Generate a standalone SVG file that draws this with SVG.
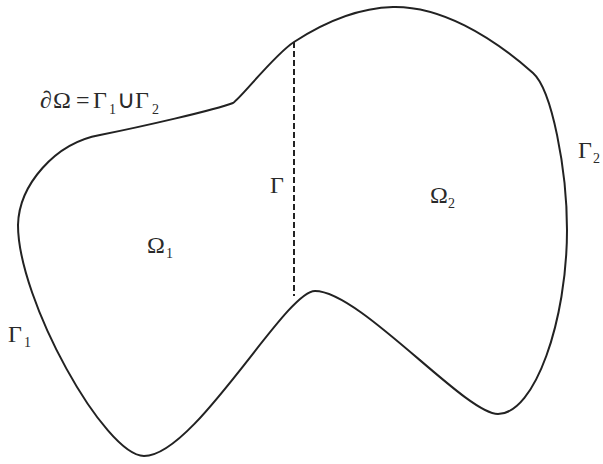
<svg xmlns="http://www.w3.org/2000/svg" width="603" height="464" viewBox="0 0 603 464">
<style>
.bd{fill:none;stroke:#222;stroke-width:2;stroke-linejoin:round}
.ifc{fill:none;stroke:#222;stroke-width:2;stroke-dasharray:6 3}
.lb{font-family:"Liberation Serif","DejaVu Serif",serif;font-size:24px;fill:#2a2a2a}
.sb{font-size:14px}
.cup{font-family:"DejaVu Sans",sans-serif;font-weight:200;font-size:25px}
</style>
<rect width="603" height="464" fill="#ffffff"/>
<g id="domain">
<path class="bd" d="M294,42 C320,25 355,8 393,7 C440,6 490,35 533,73 C552,90 567,170 567,230 C567,320 535,414 498,414 C465,414 360,291 315,291 C285,291 195,456 144,456 C105,456 18,300 18,225 C19,185 55,143 100,135 C140,127 215,110 233,103 C242,97 274,55 294,42 Z"/>
</g>
<g id="interface">
<line class="ifc" x1="294" y1="42" x2="294" y2="296"/>
</g>
<g id="labels">
<text class="lb" y="108"><tspan x="40">∂</tspan><tspan x="53">Ω</tspan><tspan x="76">=</tspan><tspan x="93">Γ</tspan><tspan x="109" y="114" class="sb">1</tspan><tspan x="117" y="108" class="cup">∪</tspan><tspan x="135">Γ</tspan><tspan x="152" y="114" class="sb">2</tspan></text>
<text class="lb" y="253"><tspan x="147">Ω</tspan><tspan x="166" y="258" class="sb">1</tspan></text>
<text class="lb" y="203"><tspan x="430">Ω</tspan><tspan x="448" y="208" class="sb">2</tspan></text>
<text class="lb" x="270" y="193">Γ</text>
<text class="lb" y="342"><tspan x="8">Γ</tspan><tspan x="24" y="347" class="sb">1</tspan></text>
<text class="lb" y="158"><tspan x="578">Γ</tspan><tspan x="593" y="163" class="sb">2</tspan></text>
</g>
</svg>
